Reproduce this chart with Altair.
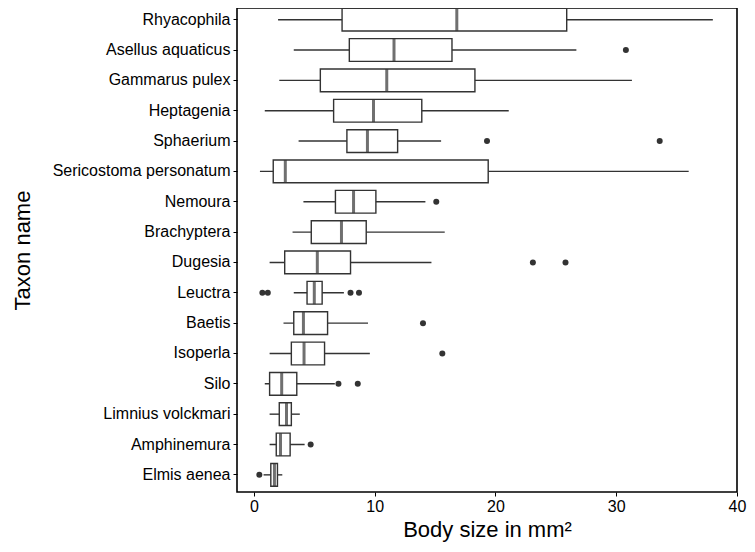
import altair as alt
import pandas as pd

taxa = ["Rhyacophila", "Asellus aquaticus", "Gammarus pulex", "Heptagenia", "Sphaerium",
        "Sericostoma personatum", "Nemoura", "Brachyptera", "Dugesia", "Leuctra", "Baetis",
        "Isoperla", "Silo", "Limnius volckmari", "Amphinemura", "Elmis aenea"]
lo = [2.0, 3.3, 2.1, 0.9, 3.7, 0.5, 4.1, 3.2, 1.3, 3.3, 2.45, 1.3, 0.9, 1.3, 1.3, 0.8]
q1 = [7.3, 7.9, 5.5, 6.6, 7.7, 1.6, 6.75, 4.75, 2.55, 4.4, 3.3, 3.1, 1.3, 2.1, 1.85, 1.4]
med = [16.8, 11.6, 11.0, 9.9, 9.4, 2.6, 8.25, 7.25, 5.25, 5.0, 4.1, 4.15, 2.3, 2.7, 2.2, 1.7]
q3 = [25.9, 16.4, 18.3, 13.9, 11.9, 19.4, 10.1, 9.3, 8.0, 5.65, 6.1, 5.85, 3.55, 3.1, 3.0, 1.95]
hi = [38.0, 26.7, 31.3, 21.1, 15.5, 36.0, 14.2, 15.8, 14.7, 7.45, 9.45, 9.6, 6.7, 3.8, 4.2, 2.35]
out_taxon = ["Asellus aquaticus", "Sphaerium", "Sphaerium", "Nemoura", "Dugesia", "Dugesia",
             "Leuctra", "Leuctra", "Leuctra", "Leuctra", "Baetis", "Isoperla", "Silo", "Silo",
             "Amphinemura", "Elmis aenea"]
out_value = [30.8, 19.3, 33.6, 15.1, 23.1, 25.8, 0.7, 1.15, 8.0, 8.7, 14.0, 15.6, 7.0, 8.6, 4.7, 0.45]

stats = pd.DataFrame({"taxon": taxa, "lo": lo, "q1": q1, "med": med, "q3": q3, "hi": hi})
outs = pd.DataFrame({"taxon": out_taxon, "value": out_value})

W, H = 500, 484
step = H / (16 - 0.25 + 0.2)
band = step * 0.75

yscale = alt.Scale(domain=taxa, paddingInner=0.25, paddingOuter=0.1, align=0.05)
yenc = alt.Y("taxon:N", scale=yscale, sort=taxa,
             axis=alt.Axis(title="Taxon name", labelFontSize=16, labelColor="black",
                           labelFont="Liberation Sans", titleFont="Liberation Sans",
                           titleFontSize=22, titleFontWeight="normal", titleColor="black",
                           tickColor="black", tickSize=4, labelPadding=3,
                           domain=False, titleX=-215, titleY=H / 2, titleAngle=-90,
                           titleBaseline="middle", titleAlign="center"))
xscale = alt.Scale(domain=[-1.4, 40], nice=False, zero=False)
xaxis = alt.Axis(title="Body size in mm²", values=[0, 10, 20, 30, 40], labelFontSize=16,
                 labelColor="black", labelFont="Liberation Sans", titleFont="Liberation Sans",
                 titleFontSize=22, titleFontWeight="normal", titleColor="black",
                 tickColor="black", tickSize=4, domain=False, grid=False, labelPadding=2,
                 titlePadding=5, labelFlush=False)

base = alt.Chart(stats)
whisk = base.mark_rule(color="#333333", strokeWidth=1.4).encode(
    x=alt.X("lo:Q", scale=xscale, axis=xaxis), x2="hi:Q", y=yenc)
box = base.mark_bar(fill="white", stroke="#333333", strokeWidth=1.4, size=band).encode(
    x=alt.X("q1:Q", scale=xscale), x2="q3:Q", y=alt.Y("taxon:N", scale=yscale, sort=taxa))
median = base.mark_tick(color="#333333", thickness=3, size=band).encode(
    x=alt.X("med:Q", scale=xscale), y=alt.Y("taxon:N", scale=yscale, sort=taxa))
points = alt.Chart(outs).mark_circle(color="#333333", opacity=1, size=36).encode(
    x=alt.X("value:Q", scale=xscale), y=alt.Y("taxon:N", scale=yscale, sort=taxa))

chart = alt.layer(whisk, box, median, points).properties(
    width=W, height=H,
    autosize=alt.AutoSizeParams(type="none"),
    padding={"left": 229, "top": 0, "right": 10, "bottom": 52},
).configure_view(stroke="black", strokeWidth=1.6).configure_axis(grid=False)

chart.save("out.html", embed_options={"renderer": "svg", "actions": False})
